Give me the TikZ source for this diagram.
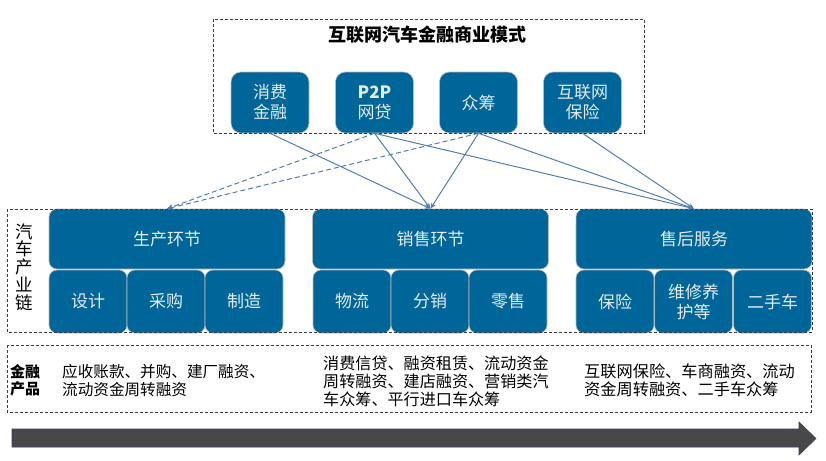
\documentclass[tikz,border=0pt]{standalone}
\usepackage{fontspec}
\setmainfont{Noto Sans CJK SC}
\usetikzlibrary{arrows.meta}
\definecolor{boxblue}{RGB}{0,101,153}
\definecolor{boxtext}{RGB}{228,235,242}
\definecolor{linkblue}{RGB}{84,124,178}
\definecolor{arrowgray}{RGB}{72,72,72}
\definecolor{dashgray}{RGB}{60,60,60}
\begin{document}
\begin{tikzpicture}[x=1pt,y=-1pt,
  bluebox/.style={draw=gray!55, line width=0.6pt, fill=boxblue, text=boxtext,
    rounded corners=8pt, inner sep=0pt, align=center,
    font=\fontsize{17}{20}\selectfont},
  topbox/.style={bluebox, minimum width=78pt, minimum height=61pt, rounded corners=10pt},
  bigbox/.style={bluebox, minimum width=236pt, minimum height=60pt},
  subbox/.style={bluebox, minimum width=78pt, minimum height=63pt},
  dashbox/.style={draw=dashgray, line width=0.7pt, dash pattern=on 3pt off 2pt},
  link/.style={draw=linkblue, line width=1pt, -{Stealth[length=6pt,width=5pt]}},
  dlink/.style={link, dash pattern=on 5pt off 3pt},
  infotext/.style={inner sep=0pt, anchor=west, align=left, text=black}
]
\useasboundingbox (0,0) rectangle (826,460);

% title
\node[inner sep=0pt, font=\fontsize{18}{20}\selectfont\bfseries] (title) at (427,35) {互联网汽车金融商业模式};

% top boxes
\node[topbox] (m1) at (270,102.5) {消费\\金融};
\node[topbox] (m2) at (374.5,102.5) {\textbf{P2P}\\网贷};
\node[topbox] (m3) at (478.5,102.5) {众筹};
\node[topbox] (m4) at (582.5,102.5) {互联网\\保险};

% big boxes
\node[bigbox] (b1) at (167,239) {生产环节};
\node[bigbox] (b2) at (430.5,239) {销售环节};
\node[bigbox] (b3) at (694,239) {售后服务};

% sub boxes
\node[subbox] (s11) at (88,301.5) {设计};
\node[subbox] (s12) at (166,301.5) {采购};
\node[subbox] (s13) at (244,301.5) {制造};
\node[subbox] (s21) at (352,301.5) {物流};
\node[subbox] (s22) at (430,301.5) {分销};
\node[subbox] (s23) at (508,301.5) {零售};
\node[subbox] (s31) at (615,301.5) {保险};
\node[subbox] (s32) at (693.5,301.5) {维修养\\护等};
\node[subbox] (s33) at (772.5,301.5) {二手车};

% vertical label
\node[inner sep=0pt, align=center, font=\fontsize{17.5}{17.8}\selectfont] (chain) at (24,267) {汽\\车\\产\\业\\链};

% dashed frames
\draw[dashbox] (213,19) rectangle (644,133);
\draw[dashbox] (7,209) rectangle (812,332);
\draw[dashbox] (7,345) rectangle (811,412);

% connectors
\draw[link] (m1.south) -- (b2.north);
\draw[dlink] (m2.south) -- (b1.north);
\draw[link] (m2.south) -- (b2.north);
\draw[link] (m2.south) -- (b3.north);
\draw[dlink] (m3.south) -- (b1.north);
\draw[link] (m3.south) -- (b2.north);
\draw[link] (m3.south) -- (b3.north);
\draw[link] (m4.south) -- (b3.north);

% financial products
\node[infotext, font=\fontsize{15}{17}\selectfont\bfseries] (fp) at (10,380.5) {金融\\产品};
\node[infotext, font=\fontsize{15.6}{17.5}\selectfont] (p1) at (62,380.5) {应收账款、并购、建厂融资、\\流动资金周转融资};
\node[infotext, font=\fontsize{16.1}{18}\selectfont] (p2) at (323,381) {消费信贷、融资租赁、流动资金\\周转融资、建店融资、营销类汽\\车众筹、平行进口车众筹};
\node[infotext, font=\fontsize{16.2}{17.5}\selectfont] (p3) at (584,380.5) {互联网保险、车商融资、流动\\资金周转融资、二手车众筹};

% bottom arrow
\fill[arrowgray, draw=arrowgray!80!blue, line width=0.6pt]
  (12,429) -- (799,429) -- (799,422) -- (816,438.5) -- (799,455) -- (799,447) -- (12,447) -- cycle;
\end{tikzpicture}
\end{document}
